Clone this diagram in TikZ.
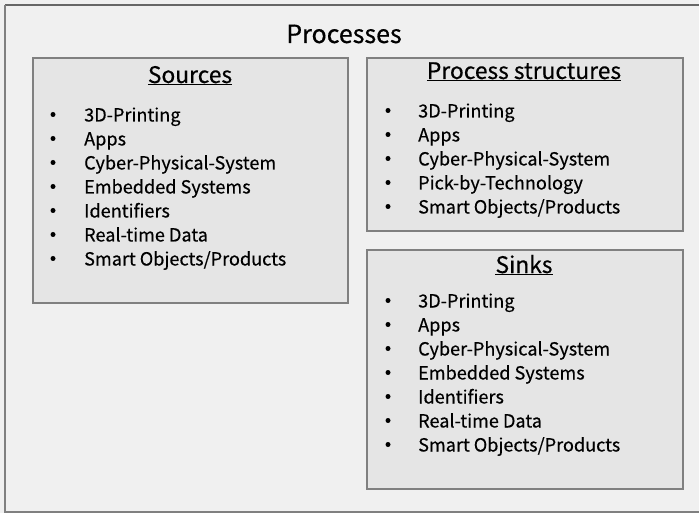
\documentclass[tikz,border=0pt]{standalone}
\usepackage{fontspec}
\setmainfont[FakeBold=0.4]{Noto Sans CJK SC}
\begin{document}
\begin{tikzpicture}[x=1pt,y=-1pt,
  panel/.style={draw=black!50, line width=2pt, fill=black!10},
  head/.style={font=\fontsize{22.8}{26}\selectfont, anchor=base},
  item/.style={font=\fontsize{18.1}{20}\selectfont, anchor=base west, inner sep=0pt},
  dot/.style={circle, fill=black, inner sep=0pt, minimum size=5pt}]
\useasboundingbox (0,0) rectangle (699,513);
\fill[black!6] (0,0) rectangle (699,513);
\begin{scope}
\clip (0,0) rectangle (699,513);
\draw[line width=2pt, draw=black!60] (5,5) -- (720,5);
\draw[line width=2pt, draw=black!50] (5,5) -- (5,512) -- (720,512);
\end{scope}
\node[font=\fontsize{25}{30}\selectfont, anchor=base] (title) at (344,43) {Processes};

\node[panel, minimum width=315pt, minimum height=245pt, anchor=north west] (src) at (32,57) {};
\node[panel, minimum width=316pt, minimum height=173pt, anchor=north west] (ps) at (366,57) {};
\node[panel, minimum width=316pt, minimum height=239pt, anchor=north west] (snk) at (366,249) {};

\node[head] (srch) at (190,83) {\underline{Sources}};
\node[head] (psh) at (524,79) {\underline{Process structures}};
\node[head] (snkh) at (524,273) {\underline{Sinks}};

% Sources
\foreach \t [count=\i] in {3D-Printing,Apps,Cyber-Physical-System,Embedded Systems,Identifiers,Real-time Data,Smart Objects/Products}{
  \node[dot] (sd\i) at (53,{114.5+24*(\i-1)}) {};
  \node[item] (si\i) at (84,{121.5+24*(\i-1)}) {\t};
}
% Process structures
\foreach \t [count=\i] in {3D-Printing,Apps,Cyber-Physical-System,Pick-by-Technology,Smart Objects/Products}{
  \node[dot] (pd\i) at (388,{110.5+24*(\i-1)}) {};
  \node[item] (pi\i) at (418,{117.5+24*(\i-1)}) {\t};
}
% Sinks
\foreach \t [count=\i] in {3D-Printing,Apps,Cyber-Physical-System,Embedded Systems,Identifiers,Real-time Data,Smart Objects/Products}{
  \node[dot] (kd\i) at (388,{300.5+24*(\i-1)}) {};
  \node[item] (ki\i) at (418,{307.5+24*(\i-1)}) {\t};
}
\end{tikzpicture}
\end{document}
